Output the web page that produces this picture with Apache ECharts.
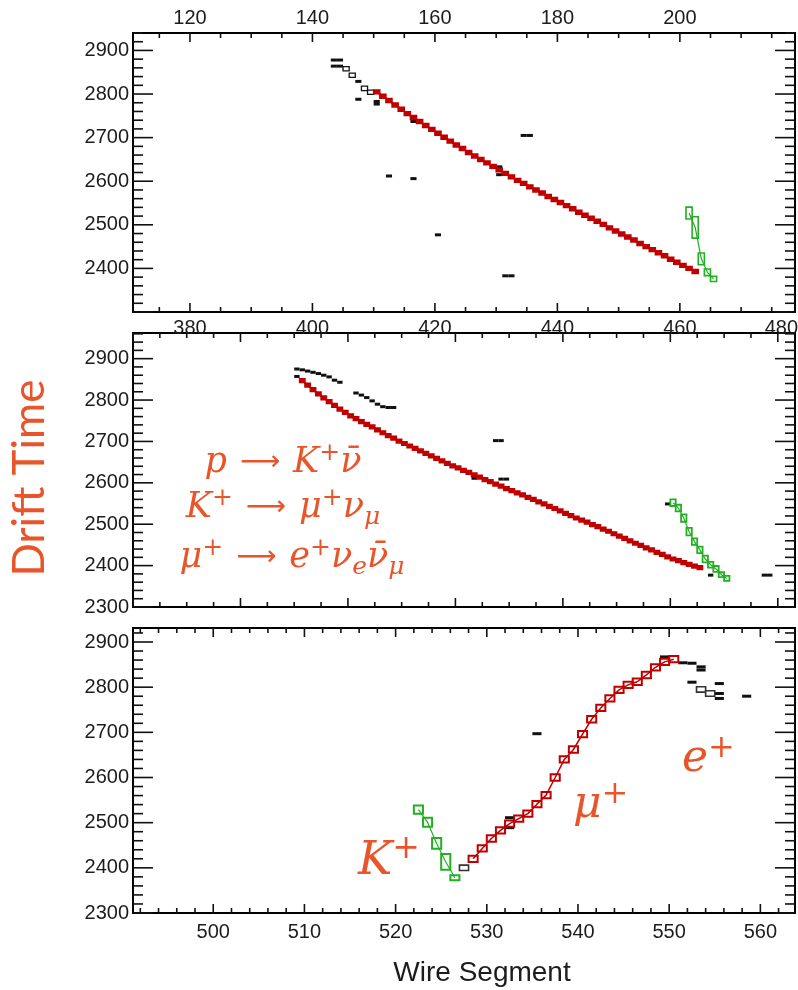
<!DOCTYPE html>
<html>
<head>
<meta charset="utf-8">
<script src="https://cdn.jsdelivr.net/npm/echarts@6.0.0/dist/echarts.min.js"></script>
<style>
html, body { margin: 0; padding: 0; background: #fff; }
#chart { width: 798px; height: 990px; }
</style>
</head>
<body>
<div id="chart"></div>
<script>
// ---------------- Plane 1 (top view) ----------------
const p1WireRange = [370.7, 478.8];
const p1UpperWireRange = [110.7, 218.8];
const p1TimeRange = [2300, 2940];
const p1LowerLabels = [380, 400, 420, 440, 460, 480];
const p1UpperLabels = [120, 140, 160, 180, 200];
const p1TimeLabels = [2400, 2500, 2600, 2700, 2800, 2900];

const p1MuonWire = [410, 411, 412, 413, 414, 415, 416, 417, 418, 419,
  420, 421, 422, 423, 424, 425, 426, 427, 428, 429,
  430, 431, 432, 433, 434, 435, 436, 437, 438, 439,
  440, 441, 442, 443, 444, 445, 446, 447, 448, 449,
  450, 451, 452, 453, 454, 455, 456, 457, 458, 459,
  460, 461, 462];
const p1MuonTime = [2805, 2795, 2785, 2775, 2765, 2755, 2746, 2737, 2728, 2719,
  2710, 2701, 2692, 2683, 2675, 2666, 2658, 2650, 2642, 2634,
  2626, 2618, 2610, 2602, 2595, 2587, 2580, 2573, 2565, 2558,
  2551, 2544, 2537, 2529, 2522, 2515, 2508, 2501, 2493, 2486,
  2479, 2472, 2465, 2457, 2450, 2443, 2436, 2429, 2421, 2414,
  2407, 2400, 2393];
const p1KaonWire = [461, 462, 463, 464, 465];
const p1KaonTime = [2527, 2494, 2422, 2391, 2376];
const p1KaonSpan = [27, 49, 27, 15, 12];
const p1HitWire = [403, 404, 403, 404, 407, 407, 410, 410, 416, 434, 435, 430, 430, 412, 416, 420, 431, 432];
const p1HitTime = [2878, 2878, 2864, 2864, 2829, 2788, 2783, 2777, 2737, 2705, 2705, 2633, 2615, 2612, 2606, 2477, 2383, 2383];
const p1OpenWire = [405, 406, 408, 409];
const p1OpenTime = [2858, 2843, 2813, 2804];

// ---------------- Plane 2 (middle view) ----------------
const p2WireRange = [340, 463.2];
const p2TimeRange = [2300, 2962];
const p2TimeLabels = [2300, 2400, 2500, 2600, 2700, 2800, 2900];

const p2MuonWire = [371, 372, 373, 374, 375, 376, 377, 378, 379, 380,
  381, 382, 383, 384, 385, 386, 387, 388, 389, 390,
  391, 392, 393, 394, 395, 396, 397, 398, 399, 400,
  401, 402, 403, 404, 405, 406, 407, 408, 409, 410,
  411, 412, 413, 414, 415, 416, 417, 418, 419, 420,
  421, 422, 423, 424, 425, 426, 427, 428, 429, 430,
  431, 432, 433, 434, 435, 436, 437, 438, 439, 440,
  441, 442, 443, 444, 445];
const p2MuonTime = [2847, 2836, 2825, 2815, 2805, 2796, 2787, 2778, 2770, 2762,
  2755, 2748, 2741, 2735, 2728, 2721, 2714, 2708, 2701, 2695,
  2689, 2683, 2677, 2671, 2665, 2659, 2653, 2647, 2641, 2636,
  2630, 2625, 2619, 2614, 2608, 2603, 2597, 2592, 2586, 2581,
  2576, 2571, 2565, 2560, 2554, 2549, 2543, 2538, 2532, 2526,
  2521, 2515, 2510, 2505, 2499, 2494, 2488, 2483, 2477, 2471,
  2466, 2460, 2454, 2449, 2443, 2438, 2432, 2427, 2421, 2416,
  2412, 2407, 2403, 2399, 2395];
const p2KaonWire = [440, 441, 442, 443, 444, 445, 446, 447, 448, 449, 450];
const p2KaonTime = [2552, 2539, 2515, 2482, 2458, 2438, 2416, 2402, 2392, 2378, 2369];
const p2KaonSpan = [16, 16, 18, 18, 16, 16, 16, 14, 14, 12, 12];
const p2HitWire = [370, 371, 372, 373, 374, 375, 376, 377, 378, 370,
  381, 382, 383, 384, 385, 386, 387, 388,
  407, 408, 403, 408, 409, 439, 447, 457, 458];
const p2HitTime = [2875, 2873, 2870, 2867, 2864, 2860, 2856, 2848, 2843, 2857,
  2817, 2812, 2806, 2798, 2790, 2784, 2782, 2782,
  2702, 2702, 2611, 2609, 2609, 2549, 2377, 2377, 2377];

// ---------------- Plane 3 (bottom view) ----------------
const p3WireRange = [491.2, 563.8];
const p3TimeRange = [2300, 2931];
const p3WireLabels = [500, 510, 520, 530, 540, 550, 560];
const p3TimeLabels = [2300, 2400, 2500, 2600, 2700, 2800, 2900];

const p3MuonWire = [528, 529, 530, 531, 532, 533, 534, 535, 536, 537,
  538, 539, 540, 541, 542, 543, 544, 545, 546, 547,
  548, 549, 550];
const p3MuonTime = [2420, 2443, 2465, 2483, 2498, 2509, 2520, 2541, 2561, 2600,
  2640, 2662, 2696, 2729, 2754, 2775, 2794, 2805, 2812, 2827,
  2844, 2856, 2862];
const p3KaonWire = [522, 523, 524, 525, 526];
const p3KaonTime = [2529, 2501, 2454, 2413, 2378];
const p3KaonSpan = [18, 20, 24, 35, 11];
const p3HitWire = [549, 551, 552, 553, 553, 552, 555, 555, 555, 558, 535, 532, 532];
const p3HitTime = [2867, 2854, 2853, 2845, 2838, 2811, 2808, 2786, 2775, 2780, 2697, 2511, 2489];
const p3OpenWire = [527, 553, 554];
const p3OpenTime = [2400, 2795, 2786];

// ---------------- styling ----------------
const ORANGE = '#e9552b';
const RED = '#c00000';
const GREEN = '#22b022';
const INK = '#111111';
const LABEL_FONT = 'Liberation Sans';
const MATH_FONT = 'DejaVu Serif';
const CANVAS_W = 798;

const GRID_LEFT = 133, GRID_WIDTH = 662;
const grids = [
  { left: GRID_LEFT, top: 33, width: GRID_WIDTH, height: 279 },
  { left: GRID_LEFT, top: 333, width: GRID_WIDTH, height: 274 },
  { left: GRID_LEFT, top: 628, width: GRID_WIDTH, height: 285 }
].map(g => Object.assign(g, {
  show: true, borderColor: '#000', borderWidth: 2, backgroundColor: 'transparent',
  containLabel: false, outerBoundsMode: 'none'
}));

const labelStyle = { color: '#1c1c1c', fontSize: 20, fontFamily: LABEL_FONT };
const inRange = (vals, r) => vals.filter(v => v >= r[0] && v <= r[1]);

function valueAxis(gridIndex, range, position, labels, margin) {
  return {
    type: 'value', gridIndex, position, min: range[0], max: range[1],
    axisLine: { show: false }, axisTick: { show: false }, splitLine: { show: false },
    axisLabel: labels
      ? Object.assign({ show: true, customValues: inRange(labels, range), margin, formatter: v => String(v) }, labelStyle)
      : { show: false }
  };
}

const xAxes = [
  valueAxis(0, p1WireRange, 'bottom', p1LowerLabels, 6),
  valueAxis(0, p1UpperWireRange, 'top', p1UpperLabels, 5),
  valueAxis(1, p2WireRange, 'bottom', null, 0),
  valueAxis(2, p3WireRange, 'bottom', p3WireLabels, 9)
];
const yAxes = [
  valueAxis(0, p1TimeRange, 'left', p1TimeLabels, 4),
  valueAxis(1, p2TimeRange, 'left', p2TimeLabels, 4),
  valueAxis(2, p3TimeRange, 'left', p3TimeLabels, 4)
];

// Tick marks on all four sides of a frame
function multiplesIn(range, step) {
  const out = [];
  for (let k = Math.ceil(range[0] / step - 1e-9); k * step <= range[1] + 1e-9; k++) out.push(k * step);
  return out;
}
function xTicks(xi, yi, xr, yr, minor, major, lenMajor, lenMinor) {
  return {
    type: 'custom', xAxisIndex: xi, yAxisIndex: yi, silent: true, z: 5, clip: false,
    data: multiplesIn(xr, minor).map(v => [v, Math.abs(v / major - Math.round(v / major)) < 1e-6 ? 1 : 0]),
    renderItem(params, api) {
      const v = api.value(0), L = api.value(1) ? lenMajor : lenMinor;
      const b = api.coord([v, yr[0]]), t = api.coord([v, yr[1]]);
      const st = { stroke: INK, lineWidth: 1.6 };
      return { type: 'group', children: [
        { type: 'line', shape: { x1: b[0], y1: b[1], x2: b[0], y2: b[1] - L }, style: st },
        { type: 'line', shape: { x1: t[0], y1: t[1], x2: t[0], y2: t[1] + L }, style: st }
      ] };
    }
  };
}
function yTicks(xi, yi, xr, yr, minor, major, lenMajor, lenMinor) {
  return {
    type: 'custom', xAxisIndex: xi, yAxisIndex: yi, silent: true, z: 5, clip: false,
    data: multiplesIn(yr, minor).map(v => [v, Math.abs(v / major - Math.round(v / major)) < 1e-6 ? 1 : 0]),
    renderItem(params, api) {
      const v = api.value(0), L = api.value(1) ? lenMajor : lenMinor;
      const l = api.coord([xr[0], v]), r = api.coord([xr[1], v]);
      const st = { stroke: INK, lineWidth: 1.6 };
      return { type: 'group', children: [
        { type: 'line', shape: { x1: l[0], y1: l[1], x2: l[0] + L, y2: l[1] }, style: st },
        { type: 'line', shape: { x1: r[0], y1: r[1], x2: r[0] - L, y2: r[1] }, style: st }
      ] };
    }
  };
}

// A hit occupies one wire (w .. w+1) and a span of drift time around t
function hitBoxes(xi, yi, wires, times, spans, style, z) {
  return {
    type: 'custom', xAxisIndex: xi, yAxisIndex: yi, silent: true, z,
    data: wires.map((w, i) => [w, times[i], spans[i]]),
    renderItem(params, api) {
      const w = api.value(0), t = api.value(1), s = api.value(2);
      const a = api.coord([w, t + s / 2]), b = api.coord([w + 1, t - s / 2]);
      return { type: 'rect', shape: { x: a[0], y: a[1], width: b[0] - a[0], height: b[1] - a[1] }, style };
    }
  };
}
// Short dark dashes for isolated hits: one wire wide, fixed thickness on screen
function hitDashes(xi, yi, wires, times, thickness, z) {
  return {
    type: 'custom', xAxisIndex: xi, yAxisIndex: yi, silent: true, z,
    data: wires.map((w, i) => [w, times[i]]),
    renderItem(params, api) {
      const a = api.coord([api.value(0), api.value(1)]), b = api.coord([api.value(0) + 1, api.value(1)]);
      return { type: 'rect', shape: { x: a[0], y: a[1] - thickness / 2, width: b[0] - a[0], height: thickness }, style: { fill: INK } };
    }
  };
}
function trackLine(xi, yi, wires, times, color, width, z) {
  return {
    type: 'line', xAxisIndex: xi, yAxisIndex: yi, silent: true, z,
    data: wires.map((w, i) => [w + 0.5, times[i]]),
    showSymbol: false, symbol: 'none',
    lineStyle: { color, width }
  };
}
const same = (arr, v) => arr.map(() => v);

const series = [
  // frames' ticks
  xTicks(0, 0, p1WireRange, p1TimeRange, 5, 20, 9, 5),
  yTicks(0, 0, p1WireRange, p1TimeRange, 20, 100, 20, 10),
  xTicks(2, 1, p2WireRange, p2TimeRange, 5, 20, 9, 5),
  yTicks(2, 1, p2WireRange, p2TimeRange, 20, 100, 20, 10),
  xTicks(3, 2, p3WireRange, p3TimeRange, 2, 10, 9, 5),
  yTicks(3, 2, p3WireRange, p3TimeRange, 20, 100, 20, 10),

  // plane 1
  hitDashes(0, 0, p1HitWire, p1HitTime, 3, 10),
  hitBoxes(0, 0, p1OpenWire, p1OpenTime, same(p1OpenWire, 10), { fill: '#fff', stroke: INK, lineWidth: 1.3 }, 11),
  trackLine(0, 0, p1MuonWire, p1MuonTime, RED, 2, 12),
  hitBoxes(0, 0, p1MuonWire, p1MuonTime, same(p1MuonWire, 9), { fill: RED, stroke: RED, lineWidth: 1.5 }, 13),
  trackLine(0, 0, p1KaonWire, p1KaonTime, GREEN, 1.2, 14),
  hitBoxes(0, 0, p1KaonWire, p1KaonTime, p1KaonSpan, { fill: 'rgba(255,255,255,0)', stroke: GREEN, lineWidth: 1.6 }, 15),

  // plane 2
  hitDashes(2, 1, p2HitWire, p2HitTime, 3, 10),
  trackLine(2, 1, p2MuonWire, p2MuonTime, RED, 2, 12),
  hitBoxes(2, 1, p2MuonWire, p2MuonTime, same(p2MuonWire, 9), { fill: RED, stroke: RED, lineWidth: 1.5 }, 13),
  trackLine(2, 1, p2KaonWire, p2KaonTime, GREEN, 1.2, 14),
  hitBoxes(2, 1, p2KaonWire, p2KaonTime, p2KaonSpan, { fill: 'rgba(255,255,255,0)', stroke: GREEN, lineWidth: 1.8 }, 15),

  // plane 3
  hitDashes(3, 2, p3HitWire, p3HitTime, 3, 10),
  hitBoxes(3, 2, p3OpenWire, p3OpenTime, same(p3OpenWire, 12), { fill: '#fff', stroke: '#333', lineWidth: 1.6 }, 11),
  trackLine(3, 2, p3MuonWire, p3MuonTime, RED, 1.5, 12),
  hitBoxes(3, 2, p3MuonWire, p3MuonTime, same(p3MuonWire, 14), { fill: 'rgba(255,255,255,0)', stroke: RED, lineWidth: 2 }, 13),
  trackLine(3, 2, p3KaonWire, p3KaonTime, GREEN, 1.2, 14),
  hitBoxes(3, 2, p3KaonWire, p3KaonTime, p3KaonSpan, { fill: 'rgba(255,255,255,0)', stroke: GREEN, lineWidth: 2 }, 15)
];

// Rich text styles for the decay formulas
function mathRich(size) {
  const lh = Math.round(size * 1.25);
  return {
    i: { fill: ORANGE, fontFamily: MATH_FONT, fontStyle: 'italic', fontSize: size, lineHeight: lh },
    o: { fill: ORANGE, fontFamily: 'DejaVu Sans', fontSize: Math.round(size * 0.8), lineHeight: lh },
    g: { fill: ORANGE, fontFamily: MATH_FONT, fontSize: size, lineHeight: lh, width: Math.round(size * 0.36) },
    sp: { fill: ORANGE, fontFamily: MATH_FONT, fontSize: Math.round(size * 0.72), lineHeight: Math.round(size * 0.75), verticalAlign: 'top' },
    sb: { fill: ORANGE, fontFamily: MATH_FONT, fontStyle: 'italic', fontSize: Math.round(size * 0.72), lineHeight: Math.round(size * 0.4), verticalAlign: 'bottom' }
  };
}
function mathText(x, y, text, size, align) {
  return {
    type: 'text', x, y, z: 50, silent: true,
    style: { text, rich: mathRich(size), fill: ORANGE, align, verticalAlign: 'middle', textAlign: align, textVerticalAlign: 'middle' }
  };
}

const ARROW = '\u27f6';
const decayLines = [
  '{i|p}{g| }{o|' + ARROW + '}{g| }{i|K}{sp|+}{i|\u03bd\u0304}',
  '{i|K}{sp|+}{g| }{o|' + ARROW + '}{g| }{i|\u03bc}{sp|+}{i|\u03bd}{sb|\u03bc}',
  '{i|\u03bc}{sp|+}{g| }{o|' + ARROW + '}{g| }{i|e}{sp|+}{i|\u03bd}{sb|e}{i|\u03bd\u0304}{sb|\u03bc}'
];

const graphic = [
  {
    type: 'text', x: 30, y: 478, rotation: Math.PI / 2, z: 50, silent: true,
    style: { text: 'Drift Time', fill: ORANGE, fontSize: 44, fontFamily: 'Lato', align: 'center', verticalAlign: 'middle', textAlign: 'center', textVerticalAlign: 'middle' }
  },
  {
    type: 'text', x: 482, y: 973, z: 50, silent: true,
    style: { text: 'Wire Segment', fill: '#1c1c1c', fontSize: 28, fontFamily: LABEL_FONT, align: 'center', verticalAlign: 'middle', textAlign: 'center', textVerticalAlign: 'middle' }
  },
  mathText(283, 463, decayLines[0], 35, 'center'),
  mathText(283, 508, decayLines[1], 35, 'center'),
  mathText(292, 558, decayLines[2], 35, 'center'),
  mathText(358, 862, '{i|K}{sp|+}', 46, 'left'),
  mathText(573, 806, '{i|\u03bc}{sp|+}', 44, 'left'),
  mathText(682, 760, '{i|e}{sp|+}', 44, 'left')
];

const chart = echarts.init(document.getElementById('chart'), null, { renderer: 'canvas' });
chart.setOption({
  animation: false,
  backgroundColor: '#fff',
  grid: grids,
  xAxis: xAxes,
  yAxis: yAxes,
  series,
  graphic
});

// Labels of the top plane's lower scale that fall just past the frame edge
// are kept inside the canvas, right-aligned to its border.
const gridBottom = grids[0].top + grids[0].height;
const edgeLabels = p1LowerLabels.filter(v => v > p1WireRange[1]).map(v => {
  const px = chart.convertToPixel({ xAxisIndex: 0 }, v);
  const al = px > CANVAS_W - 16 ? 'right' : 'center';
  return {
    type: 'text', x: Math.min(px, CANVAS_W), y: gridBottom + 6, z: 50, silent: true,
    style: { text: String(v), fill: labelStyle.color, font: labelStyle.fontSize + 'px ' + LABEL_FONT,
      align: al, verticalAlign: 'top', textAlign: al, textVerticalAlign: 'top' }
  };
});
chart.setOption({ graphic: graphic.concat(edgeLabels) });
</script>
</body>
</html>
